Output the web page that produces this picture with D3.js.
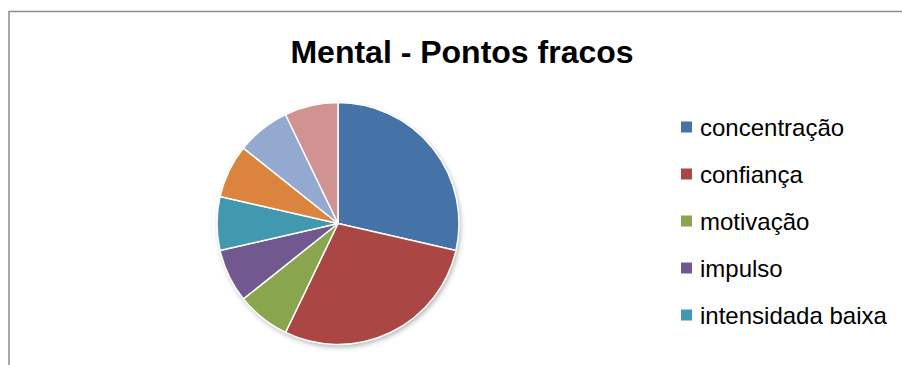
<!DOCTYPE html>
<html>
<head>
<meta charset="utf-8">
<script src="https://cdn.jsdelivr.net/npm/d3@7"></script>
<style>
  html, body { margin: 0; padding: 0; background: #fff; }
  svg { display: block; }
</style>
</head>
<body>
<svg id="chart" width="902" height="365"></svg>
<script>
// Pie slices: weak points in the mental area
const categories = ["concentração", "confiança", "motivação", "impulso", "intensidada baixa", "ansiedade", "pressão", "foco"];
const values = [4, 4, 1, 1, 1, 1, 1, 1];
const colors = ["#4572A7", "#AA4643", "#89A54E", "#71588F", "#4198AF", "#DB843D", "#93A9CF", "#D19392"];
const title = "Mental - Pontos fracos";
// Only the entries that fit in the legend area are shown
const legendCount = 5;

const svg = d3.select("#chart");

// Chart frame
svg.append("rect")
  .attr("x", 9).attr("y", 11.5)
  .attr("width", 1000).attr("height", 400)
  .attr("fill", "#fff")
  .attr("stroke", "#8c8c8c").attr("stroke-width", 1.5);

// Title
svg.append("text")
  .attr("x", 462).attr("y", 63)
  .attr("text-anchor", "middle")
  .attr("font-family", "Liberation Sans, Arial, sans-serif")
  .attr("font-weight", "bold")
  .attr("font-size", 32)
  .attr("fill", "#000")
  .text(title);

// Soft shadow under the pie
const defs = svg.append("defs");
const f = defs.append("filter").attr("id", "shadow")
  .attr("x", "-20%").attr("y", "-20%").attr("width", "140%").attr("height", "140%");
f.append("feDropShadow")
  .attr("dx", 1.5).attr("dy", 2.5).attr("stdDeviation", 2.5)
  .attr("flood-color", "#000").attr("flood-opacity", 0.3);

const cx = 338, cy = 223.5, r = 121;
const pie = d3.pie().value(d => d).sort(null);
const arc = d3.arc().innerRadius(0).outerRadius(r);
const color = d3.scaleOrdinal().domain(categories).range(colors);

const g = svg.append("g").attr("transform", `translate(${cx},${cy})`);
g.append("circle").attr("r", r).attr("fill", "#fff").attr("filter", "url(#shadow)");
g.selectAll("path")
  .data(pie(values))
  .join("path")
  .attr("d", arc)
  .attr("fill", (d, i) => color(categories[i]))
  .attr("stroke", "#fff")
  .attr("stroke-width", 1.5)
  .attr("stroke-linejoin", "round");

// Legend
const legend = svg.append("g");
const y = d3.scalePoint().domain(categories.slice(0, legendCount)).range([127, 315]);
const items = legend.selectAll("g")
  .data(categories.slice(0, legendCount))
  .join("g")
  .attr("transform", d => `translate(681,${y(d)})`);
items.append("rect")
  .attr("x", 0).attr("y", -5.5)
  .attr("width", 11).attr("height", 11)
  .attr("fill", d => color(d));
items.append("text")
  .attr("x", 19).attr("y", 0)
  .attr("dy", "0.36em")
  .attr("font-family", "Liberation Sans, Arial, sans-serif")
  .attr("font-size", 24)
  .attr("fill", "#000")
  .text(d => d);
</script>
</body>
</html>
